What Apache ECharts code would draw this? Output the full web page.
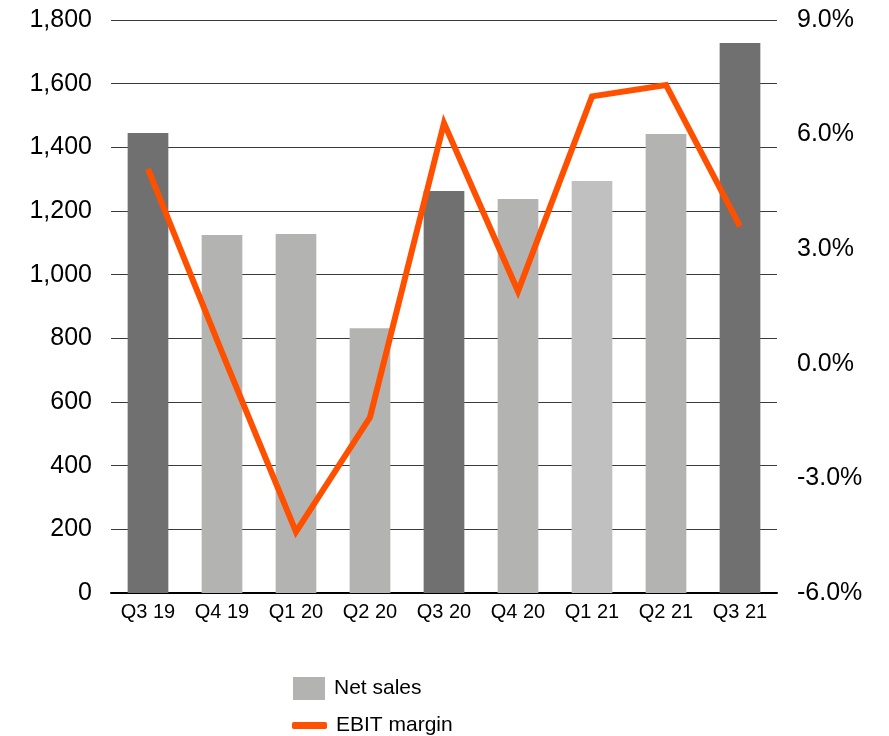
<!DOCTYPE html>
<html>
<head>
<meta charset="utf-8">
<script src="https://cdn.jsdelivr.net/npm/echarts@6/dist/echarts.min.js"></script>
<style>
  html, body { margin: 0; padding: 0; background: #fff; }
  #chart { width: 889px; height: 736px; }
</style>
</head>
<body>
<div id="chart"></div>
<script>
// Quarterly net sales (bars, left axis) and EBIT margin in % (line, right axis)
var quarters = ['Q3 19', 'Q4 19', 'Q1 20', 'Q2 20', 'Q3 20', 'Q4 20', 'Q1 21', 'Q2 21', 'Q3 21'];
var netSales = [1445, 1125, 1128, 832, 1263, 1238, 1294, 1442, 1728];
var ebitMargin = [5.1, 0.3, -4.4, -1.4, 6.3, 1.9, 7.0, 7.3, 3.6];
// Q3 quarters are shown in a darker shade
var barColors = ['#6f706f', '#b3b4b1', '#b3b4b1', '#b3b4b1', '#6f706f', '#b3b4b1', '#c0c0c0', '#b3b4b1', '#6f706f'];

var font = '"Liberation Sans", Arial, sans-serif';
var legendText = { fontFamily: font, fontSize: 21, color: '#000', padding: [0, 0, 0, 4] };

var chart = echarts.init(document.getElementById('chart'), null, { renderer: 'canvas' });
chart.setOption({
  animation: false,
  backgroundColor: '#ffffff',
  textStyle: { fontFamily: font, color: '#000' },
  grid: { left: 111, right: 112, top: 20, bottom: 143, containLabel: false },
  // one legend per entry so each keeps its own key size
  legend: [
    {
      orient: 'vertical',
      left: 293,
      top: 677,
      padding: 0,
      itemWidth: 32,
      itemHeight: 23,
      textStyle: legendText,
      data: [{ name: 'Net sales', icon: 'rect' }]
    },
    {
      orient: 'vertical',
      left: 292,
      top: 715,
      padding: 0,
      itemWidth: 35,
      itemHeight: 7,
      textStyle: legendText,
      data: [{ name: 'EBIT margin', icon: 'roundRect' }]
    }
  ],
  xAxis: {
    type: 'category',
    data: quarters,
    axisLine: { show: true, lineStyle: { color: '#000', width: 2 } },
    axisTick: { show: false },
    axisLabel: { fontFamily: font, fontSize: 20, color: '#000', margin: 9 }
  },
  yAxis: [
    {
      type: 'value',
      min: 0,
      max: 1800,
      interval: 200,
      axisLine: { show: false },
      axisTick: { show: false },
      splitLine: { show: true, lineStyle: { color: '#3a3a3a', width: 1 } },
      axisLabel: {
        fontFamily: font, fontSize: 25, color: '#000', margin: 19,
        formatter: function (v) { return v.toLocaleString('en-US'); }
      }
    },
    {
      type: 'value',
      min: -6,
      max: 9,
      interval: 3,
      position: 'right',
      axisLine: { show: false },
      axisTick: { show: false },
      splitLine: { show: false },
      axisLabel: {
        fontFamily: font, fontSize: 25, color: '#000', margin: 20,
        formatter: function (v) { return v.toFixed(1) + '%'; }
      }
    }
  ],
  series: [
    {
      name: 'Net sales',
      type: 'bar',
      yAxisIndex: 0,
      barWidth: '55%',
      itemStyle: { color: '#b3b4b1' },
      data: netSales.map(function (v, i) {
        return { value: v, itemStyle: { color: barColors[i] } };
      })
    },
    {
      name: 'EBIT margin',
      type: 'line',
      yAxisIndex: 1,
      symbol: 'none',
      lineStyle: { color: '#ff5000', width: 6, join: 'miter' },
      itemStyle: { color: '#ff5000' },
      data: ebitMargin
    }
  ]
});
</script>
</body>
</html>
